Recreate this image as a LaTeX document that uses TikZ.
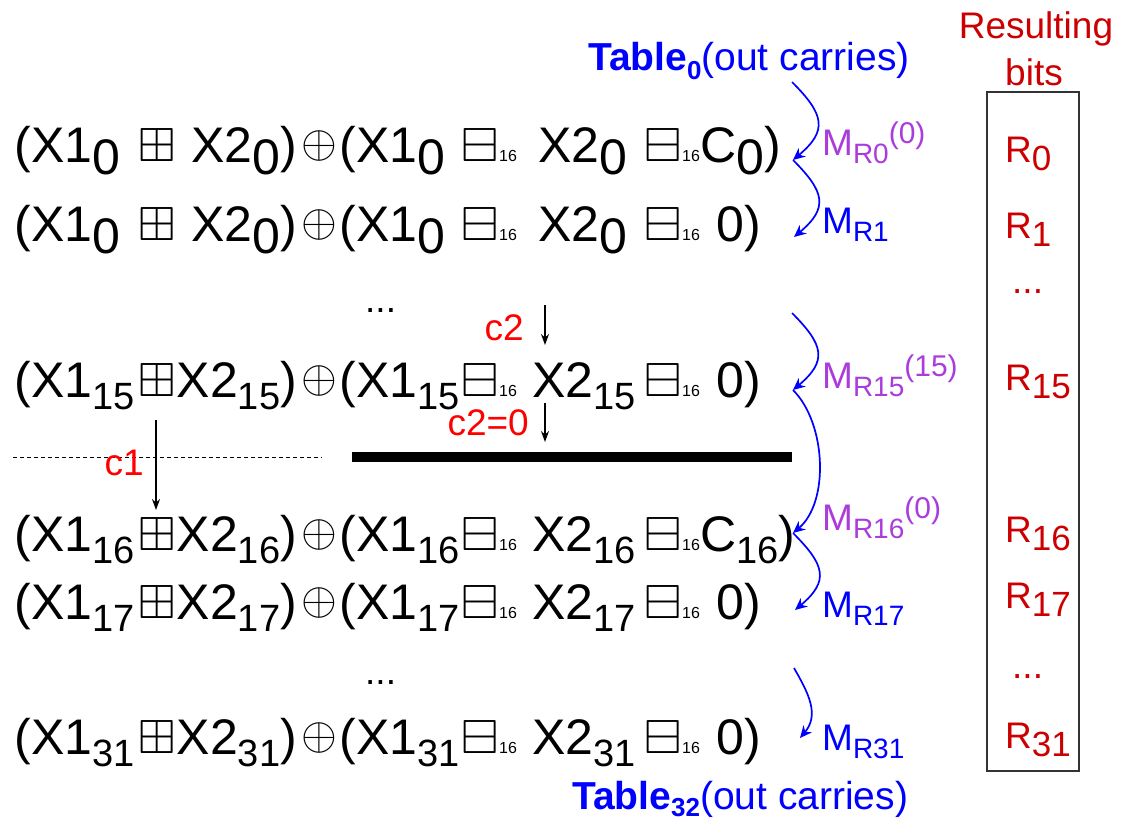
\documentclass[tikz,border=0pt]{standalone}
\usepackage{graphicx}
\usepackage{amssymb}
\usepackage{fontspec}
\setmainfont{Liberation Sans}
\usetikzlibrary{arrows.meta}

\definecolor{carryblue}{RGB}{0,0,255}
\definecolor{carrypurple}{RGB}{170,60,220}
\definecolor{bitred}{RGB}{204,0,0}
\definecolor{flagred}{RGB}{255,0,0}

% subscripts in the sums sit low; in rows 0 and 1 they are full size
\newcommand{\lowsub}[2][50]{\raisebox{-12pt}{\fontsize{#1}{#1}\selectfont #2}}
% the 16 that follows every boxed minus
\newcommand{\sixteen}{\rlap{\fontsize{16}{16}\selectfont 16}}
% sub- and superscripts of the carry labels
\newcommand{\msub}[1]{\raisebox{-8pt}{\fontsize{28}{28}\selectfont #1}}
\newcommand{\msup}[1]{\raisebox{12pt}{\fontsize{30}{30}\selectfont #1}}
\newcommand{\bitsub}[1]{\raisebox{-8pt}{\fontsize{35}{35}\selectfont #1}}

\begin{document}
\begin{tikzpicture}[
  x=1pt, y=1pt,
  eqrow/.style={anchor=base west, inner sep=0pt, font=\fontsize{50}{54}\selectfont},
  boxop/.style={anchor=south, inner sep=0pt},
  mlabel/.style={anchor=base west, inner sep=0pt, font=\fontsize{37}{40}\selectfont},
  bitlabel/.style={anchor=base west, inner sep=0pt, text=bitred,
    font=\fontsize{37}{40}\selectfont},
  flag/.style={anchor=base east, inner sep=0pt, text=flagred,
    font=\fontsize{37}{40}\selectfont},
  tabletag/.style={anchor=base west, inner sep=0pt, text=carryblue,
    font=\fontsize{39}{42}\selectfont},
  gap/.style={anchor=base west, inner sep=0pt, font=\fontsize{37}{40}\selectfont},
  carry/.style={draw=carryblue, line width=1.7pt,
    -{Stealth[length=12pt, width=11pt]}},
  flow/.style={draw, line width=1.3pt, -{Stealth[length=11pt, width=8pt]}},
]
\useasboundingbox (0,0) rectangle (1130,-820);

% ------------------------------------------------------------ the rows
% Every row is set in the same columns: the operators line up from row to
% row, only the operands move. \k is the bit index printed, \s its size,
% \dx where the second X2 starts, \tx where the tail starts.
\foreach \n/\k/\y/\s/\dx/\tx/\tail in {
    0/0/162/50/538/700/{C\lowsub{0})},
    1/0/241/50/538/716/{0)},
   15/15/397/38/532/716/{0)},
   16/16/551/38/532/700/{C\lowsub[38]{16})},
   17/17/619/38/532/716/{0)},
   31/31/754/38/532/716/{0)}}{
  \node[eqrow] (a\n) at (14.5,-\y) {(X1\lowsub[\s]{\k}};
  \node[boxop] (p\n) at (157,-\y) {\scalebox{4.8}{$\boxplus$}};
  \node[eqrow, anchor=base east] (b\n) at (297,-\y) {X2\lowsub[\s]{\k})};
  \node[boxop] (x\n) at (319.5,-\y) {\scalebox{4.6}{$\oplus$}};
  \node[eqrow] (c\n) at (339.5,-\y) {(X1\lowsub[\s]{\k}};
  \node[boxop] (m\n) at (480.5,-\y) {\scalebox{4.8}{$\boxminus$}\sixteen};
  \node[eqrow] (d\n) at (\dx,-\y) {X2\lowsub[\s]{\k}};
  \node[boxop] (n\n) at (663.5,-\y) {\scalebox{4.8}{$\boxminus$}\sixteen};
  \node[eqrow] (e\n) at (\tx,-\y) {\tail};
}
\node[gap] (gap0) at (365,-312) {...};
\node[gap] (gap1) at (365,-684) {...};

% ------------------------------------------------------ the 16-bit cut
\draw[dashed, line width=1pt, dash pattern=on 4pt off 3pt] (13,-457) -- (322,-457);
\draw[line width=10pt] (352,-457) -- (792,-457);

\coordinate (c2a) at (545,-305);
\coordinate (c2b) at (545,-345);
\coordinate (c2c) at (545,-403);
\coordinate (c2d) at (545,-442);
\coordinate (c1a) at (156,-420);
\coordinate (c1b) at (156,-510);
\draw[flow] (c2a) -- (c2b);
\draw[flow] (c2c) -- (c2d);
\draw[flow] (c1a) -- (c1b);
\node[flag] (c2) at (524,-340) {c2};
\node[flag] (c2zero) at (529,-435) {c2=0};
\node[flag] (c1) at (144,-475) {c1};

% ------------------------------------------------------ carry tables
\node[tabletag] (tab0) at (588,-70)
  {\textbf{Table\raisebox{-9pt}{\fontsize{26}{26}\selectfont 0}}(out carries)};
\node[tabletag] (tab32) at (572,-809)
  {\textbf{Table\raisebox{-7pt}{\fontsize{26}{26}\selectfont 32}}(out carries)};

\coordinate (k0s) at (792,-82);
\coordinate (k0) at (793,-160);
\coordinate (k1) at (794,-237);
\coordinate (k15s) at (792,-313);
\coordinate (k15) at (793,-390);
\coordinate (k16) at (793,-533);
\coordinate (k17) at (795,-610);
\coordinate (k31s) at (794,-668);
\coordinate (k31) at (800,-738);

\draw[carry] (k0s) to[out=-45, in=40, looseness=1.5] (k0);
\draw[carry] (k0) to[out=-45, in=40, looseness=1.5] (k1);
\draw[carry] (k15s) to[out=-45, in=40, looseness=1.5] (k15);
\draw[carry] (k15) to[out=-45, in=40, looseness=0.85] (k16);
\draw[carry] (k16) to[out=-45, in=40, looseness=1.5] (k17);
\draw[carry] (k31s) to[out=-60, in=50, looseness=1.1] (k31);

\node[mlabel, text=carrypurple] (mr0) at (822,-155) {M\msub{R0}\msup{(0)}};
\node[mlabel, text=carryblue] (mr1) at (822,-233) {M\msub{R1}};
\node[mlabel, text=carrypurple] (mr15) at (822,-388) {M\msub{R15}\msup{(15)}};
\node[mlabel, text=carrypurple] (mr16) at (822,-530) {M\msub{R16}\msup{(0)}};
\node[mlabel, text=carryblue] (mr17) at (822,-617) {M\msub{R17}};
\node[mlabel, text=carryblue] (mr31) at (822,-750) {M\msub{R31}};

% --------------------------------------------------------- result bits
\node[anchor=base, inner sep=0pt, text=bitred, font=\fontsize{37}{40}\selectfont]
  (head) at (1036,-38) {Resulting};
\node[anchor=base, inner sep=0pt, text=bitred, font=\fontsize{37}{40}\selectfont]
  (headb) at (1034,-85) {bits};
\node[draw=black!80, line width=1.2pt, minimum width=92pt, minimum height=679pt,
  inner sep=0pt] (bitbox) at (1033,-431.5) {};

\foreach \n/\y in {0/162, 1/238, 15/390, 16/542, 17/608, 31/748}{
  \node[bitlabel] (r\n) at (1005,-\y) {R\bitsub{\n}};
}
\node[bitlabel] (rgap0) at (1012,-293) {...};
\node[bitlabel] (rgap1) at (1012,-678) {...};

\end{tikzpicture}
\end{document}
